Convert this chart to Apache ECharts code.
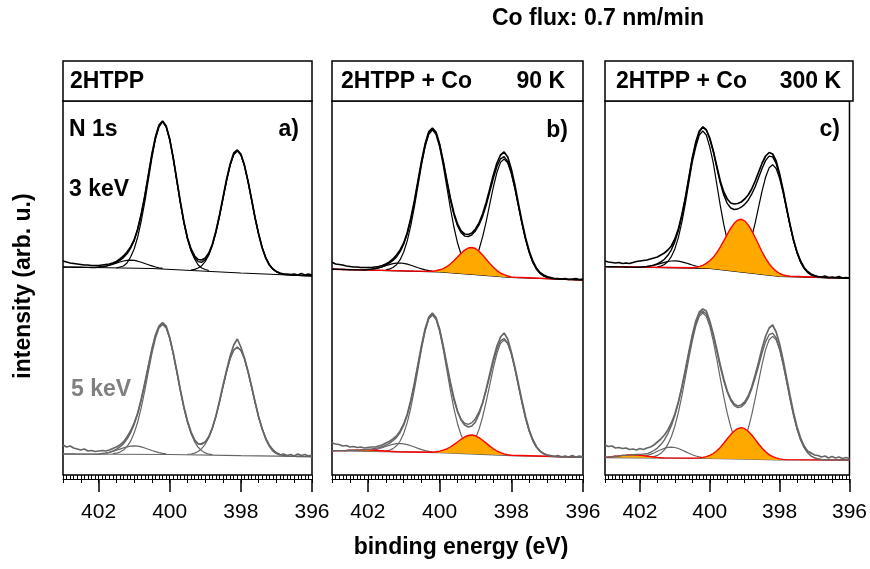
<!DOCTYPE html>
<html>
<head>
<meta charset="utf-8">
<script src="https://cdn.jsdelivr.net/npm/echarts@6/dist/echarts.min.js"></script>
<style>
  html, body { margin: 0; padding: 0; background: #fff; }
  #chart { width: 870px; height: 569px; }
</style>
</head>
<body>
<div id="chart"></div>
<script>
// binding energy grid (eV), shared by all spectra
const energy = [403.0,402.9,402.8,402.7,402.6,402.5,402.4,402.3,402.2,402.1,
  402.0,401.9,401.8,401.7,401.6,401.5,401.4,401.3,401.2,401.1,
  401.0,400.9,400.8,400.7,400.6,400.5,400.4,400.3,400.2,400.1,
  400.0,399.9,399.8,399.7,399.6,399.5,399.4,399.3,399.2,399.1,
  399.0,398.9,398.8,398.7,398.6,398.5,398.4,398.3,398.2,398.1,
  398.0,397.9,397.8,397.7,397.6,397.5,397.4,397.3,397.2,397.1,
  397.0,396.9,396.8,396.7,396.6,396.5,396.4,396.3,396.2,396.1,
  396.0];
const tickValues = [396, 398, 400, 402];

// a) 2HTPP, 3 keV
const a3Raw = [214,213,212,211.5,211,210.5,210,210,209.5,209.5,
  209.5,210,210.5,211,212,213.5,216,219,223,228,
  235,246,261,279,300,321,338,350,354,349,
  336,317,295,273,253,237,226,219,215.5,215,
  217,222,231,244,260,278,296,311,322,325,
  321,310,294,276,257,241,227,217,210,206,
  203.5,202,201,201,200.5,201,200,201.5,200,201,
  200];
const a3Fit = [208,207.9,207.9,207.8,207.8,207.7,207.6,207.6,207.5,207.5,
  208,208.4,208.9,209.8,210.8,212.6,214.6,217.4,221.2,226.7,
  234.4,245.6,260.5,278.8,299.5,320.1,337.7,349.6,353.6,348.2,
  335.3,316.4,294.4,272.3,252.6,236.5,224.8,217.4,213.4,212.7,
  215.2,220.8,230,243,259,276.8,294.6,310,320.4,324.2,
  320.2,309.4,293.8,275.6,257.2,240.8,227.4,217.3,210.5,205.9,
  203.2,201.6,200.7,200.1,199.9,199.8,199.6,199.5,199.3,199.2,
  199];
const a3Bg = [[403, 208], [400.5, 206.5], [398, 202], [396, 199]];
const a3P1 = { from: 401.5, y: [207,208,209,212,218,226,238,254,273,295,317,336,348,353,348,336,317,294,272,252,236,224,216,210,207,205.5,204.5] };
const a3P2 = { from: 399.4, y: [205,205.6,207,209.3,213.6,220,229.8,243,259,276.8,294.6,310,320.4,324.2,320.2,309.4,293.8,275.6,257.2,240.8,227.4,217.3,210.5,205.9,203.2,201.6,200.7] };
const a3P3 = { from: 402.0, y: [208,208.4,208.9,209.8,210.8,211.9,213,214,214.7,214.9,214.6,213.8,212.7,211.5,210.3,209.1,208,207.2,206.6] };

// a) 2HTPP, 5 keV
const a5Raw = [30,28,29,27,26,25,26,24,24.5,23.5,
  24,24.5,24,25,26.5,28,30,33,38,44,
  52,62,76,92,109,126,140,149,152.5,149,
  137.5,122,104,85,68,54,43,35,31,31.5,
  33,38,47,59,74,90,105,119,130,136,
  128,117,104,89,73,58,46,36,29,24,
  21.5,20,21,19.5,20.5,19,21,19.5,20.5,19,
  20];
const a5Fit = [21,21,21,21,20.9,20.9,20.9,20.9,20.9,20.9,
  20.8,21.5,21.9,22.6,24.1,25.7,28.1,31.3,35.9,42,
  50.4,61.3,74.9,91.1,108.5,125.3,139.5,148.8,151.6,147.6,
  137,121.2,103.1,84.4,67.1,53,42.2,35,31.2,30.6,
  33.1,38.5,47.3,58.8,73.2,88.6,103.6,116.4,124.9,127.9,
  124.8,116.2,103.3,88.2,72.6,58.2,46,36.7,29.9,25.3,
  22.3,20.6,19.6,19.1,18.6,18.6,18.5,18.5,18.4,18.4,
  18.3];
const a5Bg = [[403, 21], [400, 20.5], [398, 19.3], [396, 18.3]];
const a5P1 = { from: 401.6, y: [21.3,21.8,22.9,24.9,28.4,33.8,41.9,53,67.4,84.7,103.3,121.4,136.7,147,150.5,146.9,136.6,121.2,103.1,84.4,67.1,52.6,41.3,33.2,27.7,24.2,22.1,20.8,20.3] };
const a5P2 = { from: 399.5, y: [20.6,21,21.9,23.5,26.4,30.9,37.5,46.8,58.8,73.2,88.6,103.6,116.4,124.9,127.9,124.8,116.2,103.3,88.2,72.6,58.2,46,36.7,29.9,25.3,22.3,20.6,19.6,19.1] };
const a5P3 = { from: 401.9, y: [21.5,21.9,22.6,23.6,24.7,25.9,27.1,28.2,28.9,29.2,28.9,28.1,27,25.8,24.5,23.4,22.4,21.6,21.2] };

// b) 2HTPP + Co 90 K, 3 keV
const b3Raw = [212.7,211,210.5,210,209,208.5,208,208,207.5,207.5,
  207.5,207.5,208,208.5,209.5,211,213,216,220,225,
  232,242.5,257,274.5,294.5,314.5,331.5,343.5,347,343,
  331,314,295,277,262,251,244,241,240.5,242,
  246,252,261,272.5,286,300,312,320,323,318,
  306,290,271,253,237,224,214,207,202.5,200,
  198.5,197.5,196.5,196.5,196,196.5,195.5,196,196.5,195.5,
  196];
const b3Fit = [205.8,205.7,205.6,205.5,205.4,205.3,205.2,205.1,205.1,205,
  205.5,205.9,206.4,207.2,208.2,210,211.9,214.6,218.1,223.3,
  230.8,241.5,255.8,273.4,293.3,313.2,330.2,342.1,346.2,342.1,
  330.5,313.4,294.4,275.9,260.4,249.2,242.2,238.9,238.4,240.2,
  244,250,258.5,269.8,283.2,296.8,308.5,316.2,318.3,313.3,
  302.2,286.8,268.9,251.1,235.4,222.4,212.7,206,201.7,199.1,
  197.6,196.7,196.2,195.9,195.8,195.6,195.5,195.4,195.3,195.1,
  195];
const b3Bg = [[403, 205.8], [400, 203], [398, 197.5], [396, 195]];
const b3P1 = { from: 401.5, y: [205.1,205.9,207.5,210.3,215.3,223,234.4,249.8,268.6,289.7,310.6,328.5,340.7,345,340.5,328.1,309.8,288.6,267.1,248,232.2,220.5,212.4,207,203.8,201.9,200.7] };
const b3P2 = { from: 399.5, y: [202.2,202.7,203.8,206,209.9,216.2,225.5,238.1,253.4,270.8,288,302.7,312.6,316,312.1,301.6,286.5,268.9,251.1,235.4,222.4,212.7,206,201.7,199.1,197.6,196.7] };
const b3P3 = { from: 402.0, y: [205.5,205.9,206.4,207.2,208.2,209.3,210.3,211.3,211.9,212,211.7,210.9,209.7,208.5,207.2,206.1,205.1,204.4,203.8] };
const b3Co = { from: 400.3, y: [203.6,203.8,204.3,205.2,206.3,208.3,211,214.3,218,221.8,224.9,227,227.5,226.5,223.8,220.1,215.8,211.6,207.7,204.4,201.9,200.3,199,198.1,197.7] };

// b) 2HTPP + Co 90 K, 5 keV
const b5Raw = [32,31,30.5,29,29.5,28,28.5,27.5,28,27,
  27.5,28,28,29,30,32,33.5,36,39,44,
  51,61,75,92,111,130,146.5,158,162,157.5,
  146,129.5,111,93,77,64,55,50,48,49,
  53,61,72,86,101,116,129,138,142,136,
  123,108,91,74,58,45,35.5,28.5,24,21.5,
  20,19.5,18.5,19.5,18,19,18,19.5,18,19,
  18];
const b5Fit = [24.3,24.3,24.4,24.4,24.5,24.7,24.8,24.9,25.1,25.2,
  25.8,26.1,26.6,27.3,28.2,29.9,31.6,34.2,37.6,42.5,
  49.8,60.1,73.9,91,110.1,129.3,145.8,157.1,161.1,156.9,
  145.4,128.7,109.6,91.1,75.1,63.4,55.6,51.8,50.7,52.4,
  56.3,63.1,72.3,84.8,98.9,113.4,125.8,134.2,136.5,132.1,
  121.5,106.5,89.1,72,56.5,43.8,34.4,27.9,23.8,21.3,
  19.8,19,18.6,18.3,18.2,18.1,18,17.9,17.9,17.8,
  17.7];
const b5Bg = [[403, 24.3], [400, 22.3], [398, 19.3], [396, 17.7]];
const b5P1 = { from: 401.5, y: [24,24.7,26.4,29.2,34,41.6,52.6,67.5,85.8,106.2,126.5,144,155.8,160,155.7,143.7,126.1,105.5,84.9,66.4,51.3,40,32.3,27.2,24.2,22.3,21.4] };
const b5P2 = { from: 399.5, y: [22.2,22.7,24,26.2,30.2,36.4,45.6,58,73.3,90.2,107.2,121.7,131.6,135,131.3,121.1,106.3,89.1,72,56.5,43.8,34.4,27.9,23.8,21.3,19.8,19] };
const b5P3 = { from: 402.0, y: [24.3,24.7,25.3,26.2,27.3,28.5,29.6,30.7,31.3,31.5,31.2,30.4,29.2,28,26.6,25.4,24.4,23.6,23.1] };
const b5Co = { from: 400.2, y: [22.8,23.2,23.8,24.8,26.1,28,30.4,33,35.7,38,39.5,40,39.2,37.4,34.8,31.9,28.9,26.2,24,22.4,21.1,20.3,19.7] };
const b5Sat = { from: 402.8, y: [24.4,24.4,24.5,24.7,24.8,24.9,25.1,25.2,25.1,25,24.8,24.5,24.3,24,23.7,23.5,23.3] };

// c) 2HTPP + Co 300 K, 3 keV
const c3Raw = [214,213,212.5,212,212.5,211.5,212,211.5,212.5,213.5,
  214,214.5,215,216,217,218,220,222,225,229,
  236,246,260,277,297,317,333,344,348,345,
  337,324,309,294,283,276,272,271,271.5,273,
  276,280,286,294,303,312,319,322.5,321,314,
  301,285,267,250,235,223,214,207.5,203.5,201,
  199.5,198.5,198,199,197.5,198,197.5,198.5,197,197.5,
  197];
const c3Fit = [208.4,208.3,208.3,208.2,208.1,208.1,208,207.9,207.9,207.8,
  207.8,208.3,208.5,209.1,209.8,211.3,213.1,215.8,219.7,225.2,
  233.1,244.2,258.9,276.5,296.4,316.6,331,343,348,345.5,
  336,323.8,307.6,292.1,279.9,271.6,267,265.5,266,267.8,
  270.6,274.8,280.8,288.3,297.6,306.8,314.6,318.9,318.1,311.5,
  299.4,283.9,266.7,249.5,234.2,222,212.9,206.7,202.6,200.2,
  198.8,198.1,197.6,197.4,197.2,197.2,197.1,197,196.9,196.8,
  196.7];
const c3Bg = [[403, 208.4], [400, 206.5], [398, 198.5], [396, 196.7]];
const c3P1 = { from: 401.5, y: [208.1,208.9,210.5,213.5,218.4,226.1,237.4,252.7,271.2,292.2,312.9,328,340,344,340,328,312.2,291,269.6,250.6,234.8,223.1,214.9,209.5,206.1,204,202.8] };
const c3P2 = { from: 399.5, y: [205.1,205.3,206.3,208.2,211.8,217.5,226.1,237.8,252.1,268.3,284.3,298,307.3,310.3,306.5,296.4,282.2,265.7,249,234.2,222,212.9,206.7,202.6,200.2,198.8,198.1] };
const c3P3 = { from: 401.9, y: [208.3,208.5,209.1,209.8,210.6,211.6,212.6,213.5,214,214.1,213.9,213.2,212.2,211.1,210,209,208.2,207.5,207.2] };
const c3Co = { from: 400.5, y: [207.3,207.8,208.4,209.6,211.6,214.3,217.7,222.3,227.8,234.2,240.7,246.8,251.7,254.9,255.7,254.1,250.1,244.4,237.5,230.2,223,216.7,211.3,207.1,203.9,201.5,200.1,199.3,198.7] };

// c) 2HTPP + Co 300 K, 5 keV
const c5Raw = [30,28.5,29,27,27.5,26.5,27,25.5,26,25,
  26.5,25.5,27,28,30,33,36,40,45,52,
  61,73,88,105,123,140,154,163,166,164,
  154,141,126,110,96,84,76,71,69,70,
  73,79,88,100,113,127,139,147,150,143,
  131,115,97,79,62,48,37,29,24,22,
  20,19.5,18,19,17,18.5,17,18,16.5,17.5,
  16.5];
const c5Fit = [17.8,18,18.3,18.7,19.1,19.6,19.8,20.1,20.2,20.5,
  20.6,20.9,21.2,22.7,24.5,26.9,30.4,35.1,41.3,49.2,
  59.5,72.2,87.1,104,121.3,137.8,151.6,160.7,163.9,161,
  152,139,123.8,108.2,94.3,82.9,74.5,69.3,67.4,68.1,
  71.2,77,85.9,97.1,109.5,122.4,133.4,140.3,141.8,137,
  126.3,111.2,93.9,75.9,59.5,45.8,35.2,27.6,22.4,19,
  17.2,16.1,15.5,15.2,15.1,15.1,15.1,15.1,15,15,
  15];
const c5Bg = [[403, 17.4], [400, 16.5], [398, 15.1], [396, 15]];
const c5P1 = { from: 401.7, y: [17.7,18.5,19.6,21.7,25.2,30.6,38.2,48.8,62.5,78.8,97.3,116.3,134.2,148.9,158.7,162,158.6,148.8,133.9,116,96.9,78.3,61.9,48.1,37.4,29.6,24.2,20.6,18.3,17.2,16.3] };
const c5P2 = { from: 399.6, y: [16.7,17.2,18.2,19.9,23.2,28.4,35.9,46.4,60.1,76.4,94,111.1,125.6,135.2,138.6,135.1,125.3,110.7,93.6,75.9,59.5,45.8,35.2,27.6,22.4,19,17.2,16.1,15.5] };
const c5P3 = { from: 402.1, y: [17.6,18,18.6,19.4,20.6,22,23.7,25.2,26.6,27.6,27.8,27.5,26.5,25,23.4,21.7,20.3,19,18.1,17.5,17] };
const c5Co = { from: 400.4, y: [16.9,17.1,17.6,18.4,19.7,21.5,24.2,27.6,31.7,36.2,40.4,44,46.4,47.3,46.3,43.7,40,35.6,31,26.8,23.2,20.4,18.4,17.1,16.1,15.6,15.4] };
const c5Sat = { from: 403.0, y: [17.8,18,18.3,18.7,19.1,19.6,19.8,20.1,20.2,20,19.7,19.4,18.8,18.4,18,17.6,17.3,17.1] };

const FONT = '"Liberation Sans", Arial, Helvetica, sans-serif';
const BLACK = '#000000';
const GRAY = '#666666';
const ORANGE = '#ffa800';
const RED = '#ff0000';

const panels = [
  [
    { raw: a3Raw, fit: a3Fit, bg: a3Bg, peaks: [a3P1, a3P2, a3P3], fills: [], color: BLACK },
    { raw: a5Raw, fit: a5Fit, bg: a5Bg, peaks: [a5P1, a5P2, a5P3], fills: [], color: GRAY }
  ],
  [
    { raw: b3Raw, fit: b3Fit, bg: b3Bg, peaks: [b3P1, b3P2, b3P3], fills: [b3Co], color: BLACK },
    { raw: b5Raw, fit: b5Fit, bg: b5Bg, peaks: [b5P1, b5P2, b5P3], fills: [b5Sat, b5Co], color: GRAY }
  ],
  [
    { raw: c3Raw, fit: c3Fit, bg: c3Bg, peaks: [c3P1, c3P2, c3P3], fills: [c3Co], color: BLACK },
    { raw: c5Raw, fit: c5Fit, bg: c5Bg, peaks: [c5P1, c5P2, c5P3], fills: [c5Sat, c5Co], color: GRAY }
  ]
];

// plot frames (px)
const boxes = [
  { left: 63, width: 249 },
  { left: 332, width: 251 },
  { left: 605, width: 248 }
];
const TOP = 101, HEIGHT = 374, HEAD = 40;

function seq(comp) {
  const i0 = energy.indexOf(comp.from);
  return comp.y.map((v, i) => [energy[i0 + i], v]);
}
function onGrid(arr) {
  return arr.map((v, i) => [energy[i], v]);
}
function lineSeries(ax, data, color, width, z) {
  return Object.assign({
    type: 'line', data, symbol: 'none', silent: true, z,
    lineStyle: { color, width }, animation: false
  }, ax);
}
function fillSeries(ax, comp, bg) {
  const top = seq(comp);
  const e0 = top[0][0], e1 = top[top.length - 1][0];
  const poly = top.concat(bg.filter(k => k[0] < e0 && k[0] > e1).reverse());
  return Object.assign({
    type: 'custom', data: [[400, 100]], silent: true, z: 3, animation: false,
    renderItem: (params, api) => ({
      type: 'polygon',
      shape: { points: poly.map(p => api.coord(p)) },
      style: { fill: ORANGE }
    })
  }, ax);
}
// red outline: background outside the Co components, the components on it
function redPath(bg, comps) {
  const out = [];
  let lastE = Infinity;
  comps.forEach(c => {
    const p = seq(c);
    out.push(...bg.filter(k => k[0] < lastE && k[0] > p[0][0]));
    out.push(...p);
    lastE = p[p.length - 1][0];
  });
  out.push(...bg.filter(k => k[0] < lastE));
  return out;
}

const grid = [], xAxis = [], yAxis = [], series = [];
panels.forEach((spectra, gi) => {
  const b = boxes[gi];
  grid.push({ left: b.left, top: TOP, width: b.width, height: HEIGHT, show: true,
    borderColor: '#000', borderWidth: 1.5, backgroundColor: '#fff' });
  xAxis.push({
    type: 'value', gridIndex: gi, position: 'bottom', inverse: true, min: 396, max: 403, offset: 4,
    axisLine: { show: true, onZero: false, lineStyle: { color: '#000', width: 1 } },
    axisTick: { show: true, customValues: tickValues, length: 13, lineStyle: { color: '#000', width: 1.5 } },
    axisLabel: { customValues: tickValues, fontSize: 21, fontFamily: FONT, color: '#000', margin: 23 },
    splitLine: { show: false }
  });
  xAxis.push({
    type: 'value', gridIndex: gi, position: 'bottom', inverse: true, min: 396, max: 403, interval: 0.5, offset: 4,
    axisLine: { show: false },
    axisTick: { show: true, length: 8, lineStyle: { color: '#000', width: 1 } },
    minorTick: { show: true, splitNumber: 5, length: 5, lineStyle: { color: '#000', width: 1 } },
    axisLabel: { show: false },
    splitLine: { show: false }
  });
  yAxis.push({ type: 'value', gridIndex: gi, min: 0, max: HEIGHT, show: false });

  const ax = { xAxisIndex: gi * 2, yAxisIndex: gi };
  spectra.forEach(s => {
    s.peaks.forEach(p => series.push(lineSeries(ax, seq(p), s.color, 1.2, 2)));
    series.push(lineSeries(ax, s.bg, s.color, 1.2, 2));
    s.fills.forEach(f => series.push(fillSeries(ax, f, s.bg)));
    if (s.fills.length) series.push(lineSeries(ax, redPath(s.bg, s.fills), RED, 1.4, 4));
    series.push(lineSeries(ax, onGrid(s.fit), s.color, 1.4, 5));
    series.push(lineSeries(ax, onGrid(s.raw), s.color, 1.7, 5));
  });
});

function txt(text, x, y, opt) {
  opt = opt || {};
  const align = opt.align || 'left';
  return {
    type: 'text', x, y, rotation: opt.rotation || 0, silent: true,
    style: {
      text, fill: opt.color || '#000',
      font: (opt.weight || 'bold') + ' ' + (opt.size || 23) + 'px ' + FONT,
      align, textAlign: align, verticalAlign: 'middle', textVerticalAlign: 'middle'
    }
  };
}

const graphic = [];
boxes.forEach(b => {
  graphic.push({ type: 'rect', silent: true, shape: { x: b.left, y: TOP - HEAD, width: b.width, height: HEAD },
    style: { fill: '#fff', stroke: '#000', lineWidth: 1.5 } });
});
graphic.push(
  txt('Co flux: 0.7 nm/min', 598, 19, { align: 'center', size: 23 }),
  txt('2HTPP', 70, 82),
  txt('2HTPP + Co', 341, 82),
  txt('90 K', 565, 82, { align: 'right' }),
  txt('2HTPP + Co', 616, 82),
  txt('300 K', 841, 82, { align: 'right' }),
  txt('N 1s', 69, 130),
  txt('a)', 299, 130, { align: 'right' }),
  txt('b)', 568, 131, { align: 'right' }),
  txt('c)', 840, 130, { align: 'right' }),
  txt('3 keV', 69, 190),
  txt('5 keV', 71, 390, { color: '#808080' }),
  txt('intensity (arb. u.)', 24, 286, { align: 'center', rotation: Math.PI / 2 }),
  txt('binding energy (eV)', 461, 548, { align: 'center' })
);

const chart = echarts.init(document.getElementById('chart'), null, { renderer: 'canvas' });
chart.setOption({
  animation: false,
  backgroundColor: '#fff',
  grid, xAxis, yAxis, series, graphic
});
</script>
</body>
</html>
